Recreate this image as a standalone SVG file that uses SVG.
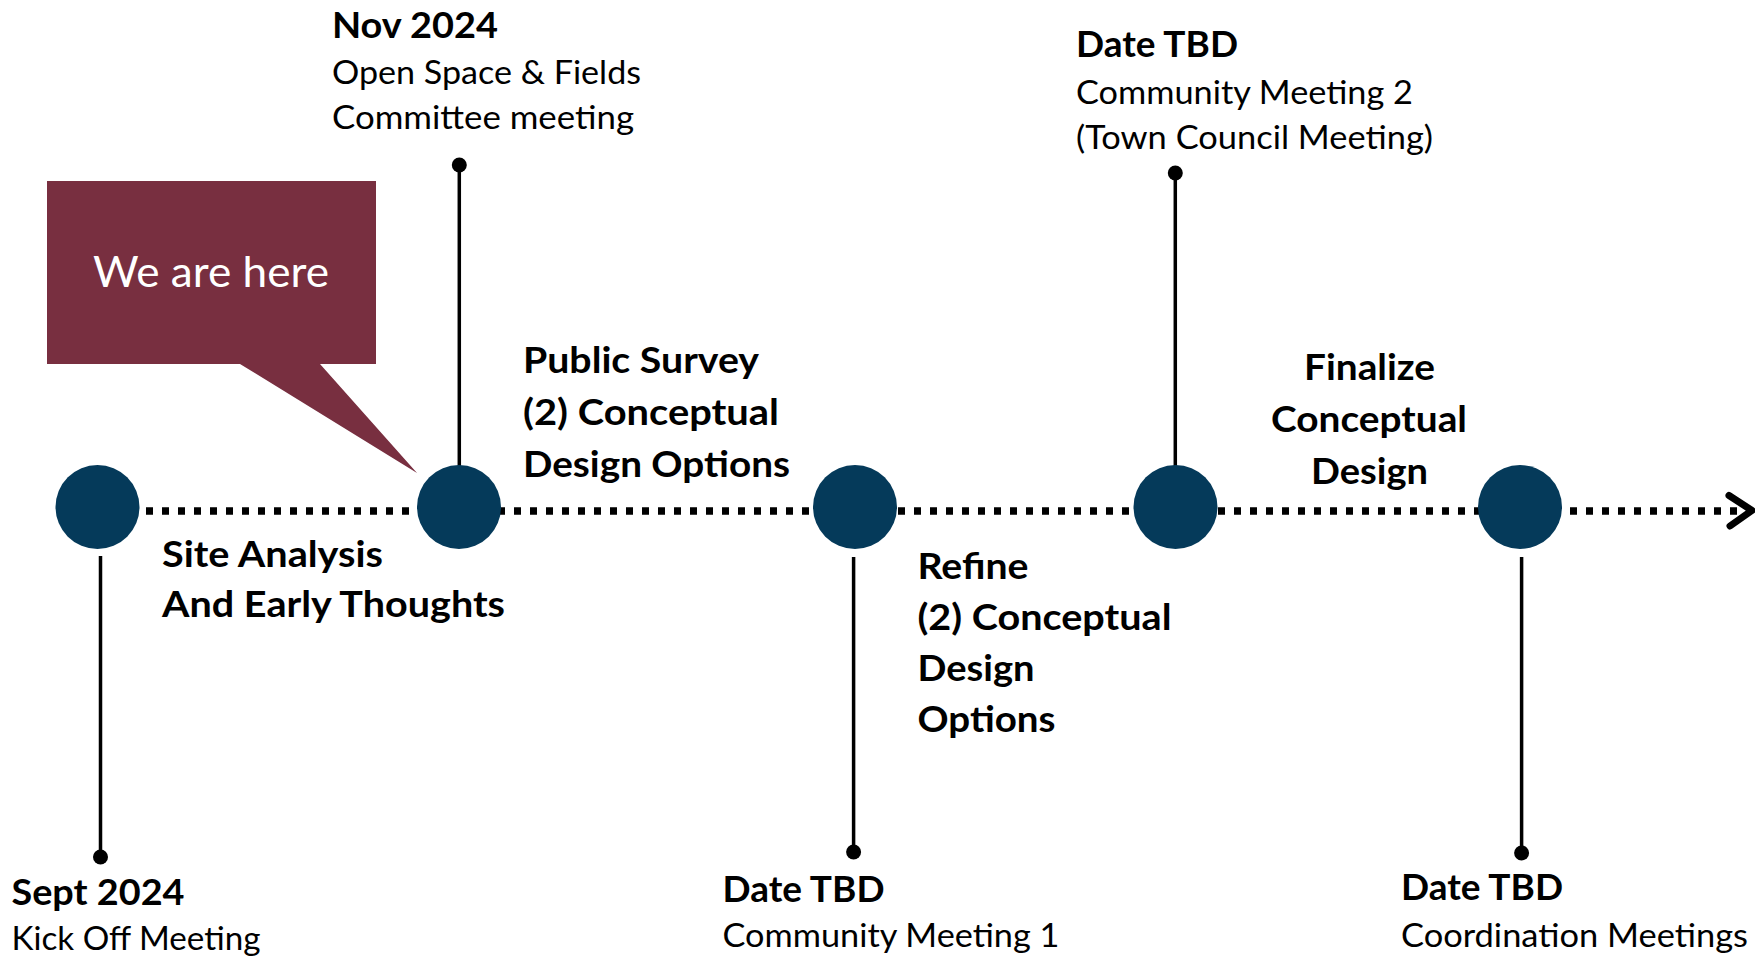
<svg xmlns="http://www.w3.org/2000/svg" width="1755" height="957" viewBox="0 0 1755 957">
<style>
.b{font-family:Lato,"Open Sans","Liberation Sans",sans-serif;font-weight:700;font-size:37px;fill:#000}
.r{font-family:Lato,"Open Sans","Liberation Sans",sans-serif;font-weight:400;font-size:33px;fill:#000}
.m{fill:#053A5A}
.stem{stroke:#000;stroke-width:3.5;fill:none}
.dot{fill:#000}
</style>
<rect width="1755" height="957" fill="#fff"/>
<g id="connectors">
<line x1="98" y1="511" x2="1742" y2="511" stroke="#000" stroke-width="7.5" stroke-dasharray="7 9"/>
<polyline points="1729,495.5 1752,510.5 1730,526" fill="none" stroke="#000" stroke-width="7" stroke-linecap="round" stroke-linejoin="round"/>
<line class="stem" x1="100.5" y1="556" x2="100.5" y2="857"/>
<circle class="dot" cx="100.5" cy="857" r="7.5"/>
<line class="stem" x1="459.3" y1="165" x2="459.3" y2="470"/>
<circle class="dot" cx="459.3" cy="165" r="7.5"/>
<line class="stem" x1="853.6" y1="557" x2="853.6" y2="852"/>
<circle class="dot" cx="853.6" cy="852" r="7.5"/>
<line class="stem" x1="1175.3" y1="173" x2="1175.3" y2="470"/>
<circle class="dot" cx="1175.3" cy="173" r="7.5"/>
<line class="stem" x1="1521.6" y1="557" x2="1521.6" y2="853"/>
<circle class="dot" cx="1521.6" cy="853" r="7.5"/>
</g>
<g id="callout">
<path d="M47,181 H376 V364 H320 L417,473 L240,364 H47 Z" fill="#782F40"/>
<text x="93" y="287" font-family="Lato,'Open Sans','Liberation Sans',sans-serif" font-size="42" fill="#fff" textLength="236" lengthAdjust="spacingAndGlyphs">We are here</text>
</g>
<g id="node-sept">
<circle class="m" cx="97.5" cy="507" r="42"/>
<text class="b" x="11.5" y="905" textLength="173" lengthAdjust="spacingAndGlyphs">Sept 2024</text>
<text class="r" x="11.5" y="950" textLength="249" lengthAdjust="spacingAndGlyphs">Kick Off Meeting</text>
</g>
<g id="phase-site">
<text class="b" x="162" y="567" textLength="221" lengthAdjust="spacingAndGlyphs">Site Analysis</text>
<text class="b" x="162" y="617" textLength="343" lengthAdjust="spacingAndGlyphs">And Early Thoughts</text>
</g>
<g id="node-nov">
<circle class="m" cx="459" cy="507" r="42"/>
<text class="b" x="332" y="37.5" textLength="166" lengthAdjust="spacingAndGlyphs">Nov 2024</text>
<text class="r" x="332" y="84" textLength="309" lengthAdjust="spacingAndGlyphs">Open Space &amp; Fields</text>
<text class="r" x="332" y="128.6" textLength="302" lengthAdjust="spacingAndGlyphs">Committee meeting</text>
</g>
<g id="phase-survey">
<text class="b" x="523" y="373" textLength="236" lengthAdjust="spacingAndGlyphs">Public Survey</text>
<text class="b" x="523" y="425" textLength="256" lengthAdjust="spacingAndGlyphs">(2) Conceptual</text>
<text class="b" x="523" y="477" textLength="267" lengthAdjust="spacingAndGlyphs">Design Options</text>
</g>
<g id="node-cm1">
<circle class="m" cx="855" cy="507" r="42"/>
<text class="b" x="722.5" y="902" textLength="162" lengthAdjust="spacingAndGlyphs">Date TBD</text>
<text class="r" x="722.5" y="947" textLength="337" lengthAdjust="spacingAndGlyphs">Community Meeting 1</text>
</g>
<g id="phase-refine">
<text class="b" x="917.5" y="579" textLength="111" lengthAdjust="spacingAndGlyphs">Refine</text>
<text class="b" x="917.5" y="630" textLength="254" lengthAdjust="spacingAndGlyphs">(2) Conceptual</text>
<text class="b" x="917.5" y="681" textLength="117" lengthAdjust="spacingAndGlyphs">Design</text>
<text class="b" x="917.5" y="732" textLength="138" lengthAdjust="spacingAndGlyphs">Options</text>
</g>
<g id="node-cm2">
<circle class="m" cx="1175.5" cy="507" r="42"/>
<text class="b" x="1076" y="57" textLength="162" lengthAdjust="spacingAndGlyphs">Date TBD</text>
<text class="r" x="1076" y="103.6" textLength="337" lengthAdjust="spacingAndGlyphs">Community Meeting 2</text>
<text class="r" x="1076" y="148.5" textLength="357" lengthAdjust="spacingAndGlyphs">(Town Council Meeting)</text>
</g>
<g id="phase-finalize">
<text class="b" x="1304" y="380" textLength="131" lengthAdjust="spacingAndGlyphs">Finalize</text>
<text class="b" x="1271" y="432" textLength="196" lengthAdjust="spacingAndGlyphs">Conceptual</text>
<text class="b" x="1311" y="484" textLength="117" lengthAdjust="spacingAndGlyphs">Design</text>
</g>
<g id="node-coord">
<circle class="m" cx="1520" cy="507" r="42"/>
<text class="b" x="1401" y="900" textLength="162" lengthAdjust="spacingAndGlyphs">Date TBD</text>
<text class="r" x="1401" y="947" textLength="347" lengthAdjust="spacingAndGlyphs">Coordination Meetings</text>
</g>
</svg>
